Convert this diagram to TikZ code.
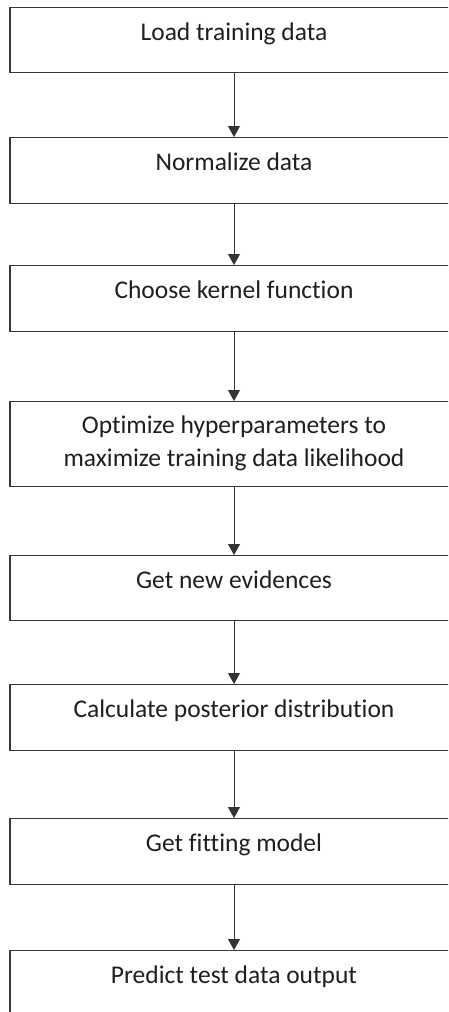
\documentclass[tikz,border=0pt]{standalone}
\usepackage{fontspec}
\setmainfont{Carlito}[Ligatures=NoCommon]
\usetikzlibrary{arrows.meta}
\begin{document}
\begin{tikzpicture}[x=1pt,y=-1pt,
  stepbox/.style={draw=black!78, line width=1.3pt, rectangle, minimum width=448pt,
    inner xsep=0pt, inner ysep=0pt, anchor=north, align=center,
    text=black!88, font=\fontsize{25.5}{33}\selectfont, text height=33pt},
  flow/.style={draw=black!80, line width=1pt, -{Triangle[length=11pt,width=12pt]}}]
\useasboundingbox (0,0) rectangle (448,1012);
\clip (0,0) rectangle (448,1012);
\node[stepbox, text depth=32pt] (b1) at (234,7) {Load training data};
\node[stepbox, text depth=33pt] (b2) at (234,137) {Normalize data};
\node[stepbox, text depth=33pt] (b3) at (234,265) {Choose kernel function};
\node[stepbox, text height=65pt, text depth=20pt] (b4) at (234,401) {Optimize hyperparameters to\\maximize training data likelihood};
\node[stepbox, text depth=32pt] (b5) at (234,555) {Get new evidences};
\node[stepbox, text depth=33pt] (b6) at (234,684) {Calculate posterior distribution};
\node[stepbox, text depth=33pt] (b7) at (234,818) {Get fitting model};
\node[stepbox, text depth=33pt] (b8) at (234,950) {Predict test data output};
\draw[flow] (b1.south) -- (b2.north);
\draw[flow] (b2.south) -- (b3.north);
\draw[flow] (b3.south) -- (b4.north);
\draw[flow] (b4.south) -- (b5.north);
\draw[flow] (b5.south) -- (b6.north);
\draw[flow] (b6.south) -- (b7.north);
\draw[flow] (b7.south) -- (b8.north);
\end{tikzpicture}
\end{document}
